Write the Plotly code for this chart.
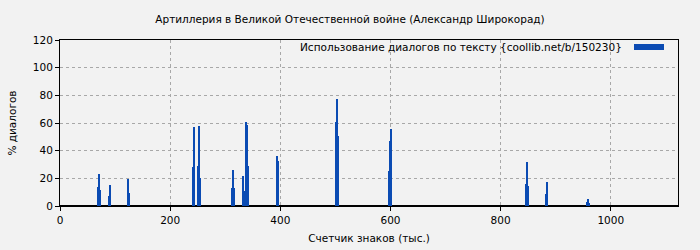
import plotly.graph_objects as go

# Character counter positions (thousands) and share of dialogue (%)
positions = [68.2, 70.0, 71.8, 88.2, 90.0, 122.6, 124.4,
             241.1, 242.9, 250.1, 252.0, 253.8,
             311.8, 313.6, 315.4,
             331.8, 333.6, 335.4, 337.2, 339.1, 340.9,
             394.7, 396.5,
             501.7, 503.5, 505.4,
             597.9, 599.7, 601.5,
             846.3, 848.1, 849.9,
             882.6, 884.4,
             957.0, 958.8, 960.6]
dialog_pct = [13.7, 23.1, 11.6, 7.2, 15.2, 19.5, 9.4,
              28.4, 57.1, 29.1, 57.8, 20.0,
              13.0, 26.0, 13.0,
              21.7, 10.8, 2.9, 60.7, 58.6, 28.9,
              36.1, 32.5,
              60.7, 77.4, 50.6,
              25.3, 47.0, 55.7,
              15.9, 31.8, 14.5,
              8.7, 17.4,
              2.9, 5.1, 2.2]

title = "Артиллерия в Великой Отечественной войне (Александр Широкорад)"
legend_label = "Использование диалогов по тексту {coollib.net/b/150230}"
x_title = "Счетчик знаков (тыс.)"
y_title = "% диалогов"
x_ticks = [0, 200, 400, 600, 800, 1000]
y_ticks = [0, 20, 40, 60, 80, 100, 120]

bar_color = "#0b4bb3"
bg = "#f2f2f2"
font = "DejaVu Sans"
fs = 10.5

fig = go.Figure()
fig.add_trace(go.Bar(x=positions, y=dialog_pct, width=1.8,
                     marker=dict(color=bar_color, line=dict(width=0)),
                     name=legend_label, showlegend=False))

fig.update_layout(
    width=700, height=250,
    margin=dict(l=60, r=22, t=40, b=44),
    paper_bgcolor=bg, plot_bgcolor=bg,
    font=dict(family=font, size=fs, color="black"),
    title=dict(text=title, x=0.5, xanchor="center", y=1 - 19 / 250, yanchor="middle",
               font=dict(family=font, size=fs, color="black")),
    bargap=0,
)
fig.update_xaxes(range=[0, 1122], tickvals=x_ticks, ticks="outside", ticklen=4,
                 tickcolor="black", showline=True, mirror=True, linecolor="black", linewidth=1,
                 showgrid=True, gridcolor="#a8a8a8", griddash="3px,3px", gridwidth=1,
                 zeroline=False, automargin=False,
                 title=dict(text=x_title, standoff=10, font=dict(size=fs)))
fig.update_yaxes(range=[0, 120], tickvals=y_ticks, ticks="outside", ticklen=4,
                 tickcolor="black", showline=True, mirror=True, linecolor="black", linewidth=1,
                 showgrid=True, gridcolor="#a8a8a8", griddash="3px,3px", gridwidth=1,
                 zeroline=True, zerolinecolor="black", zerolinewidth=2, automargin=False,
                 title=dict(text=y_title, standoff=14, font=dict(size=fs)))

# Legend (text with swatch on its right, as in the original)
fig.add_annotation(text=legend_label, xref="paper", yref="paper",
                   x=(624 - 60) / 618, y=(206 - 47) / 166, xanchor="right", yanchor="middle",
                   showarrow=False, font=dict(family=font, size=fs, color="black"))
fig.add_shape(type="rect", xref="paper", yref="paper",
              x0=(634 - 60) / 618, x1=(664 - 60) / 618,
              y0=(206 - 50) / 166, y1=(206 - 44) / 166,
              fillcolor=bar_color, line=dict(width=0))

fig.write_html("out.html")
